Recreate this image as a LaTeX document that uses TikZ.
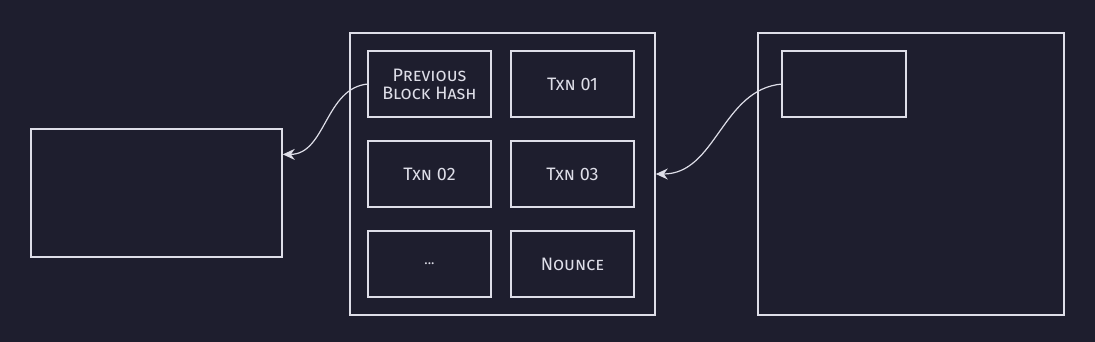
\documentclass[tikz,border=0pt]{standalone}
\usepackage{fontspec}
\setmainfont{Fira Sans}
\definecolor{Canvas}{RGB}{30,30,46}
\definecolor{Ink}{RGB}{222,222,232}
\usetikzlibrary{arrows.meta,positioning}

\begin{document}
\begin{tikzpicture}[x=1pt,y=-1pt,node distance=24pt and 20pt,
  cell/.style={draw=Ink,line width=1.6pt,minimum width=123pt,minimum height=66pt,inner sep=0pt,outer sep=0pt,
    text=Ink,align=center,font=\fontsize{18}{19}\selectfont\scshape},
  frame/.style={draw=Ink,line width=1.6pt,inner sep=0pt},
  link/.style={draw=Ink,line width=1.2pt,-{Stealth[length=12pt,width=11pt,inset=4pt]}}]
  \fill[Canvas] (0,0) rectangle (1095,342);
  \useasboundingbox (0,0) rectangle (1095,342);
  % blocks
  \node[frame,minimum width=251pt,minimum height=128pt] (prevblock) at (156.5,193) {};
  \node[frame,minimum width=305pt,minimum height=282pt] (block) at (502.5,174) {};
  \node[frame,minimum width=306pt,minimum height=282pt] (nextblock) at (911,174) {};
  % header fields
  \node[cell] (prevhash) at (429.5,84) {Previous\\[-1pt]Block Hash};
  \node[cell,right=of prevhash] (txa) {Txn 01};
  \node[cell,below=of prevhash] (txb) {Txn 02};
  \node[cell,right=of txb] (txc) {Txn 03};
  \node[cell,below=of txb,font=\fontsize{14}{16}\selectfont] (more) {...};
  \node[cell,right=of more] (nonce) {Nounce};
  \node[cell,minimum width=124pt] (nexthash) at (844,84) {};
  % links
  \draw[link] (prevhash.west) to[out=185,in=0] (prevblock.17);
  \draw[link] (nexthash.west) to[out=185,in=0] (block.east);
\end{tikzpicture}
\end{document}
